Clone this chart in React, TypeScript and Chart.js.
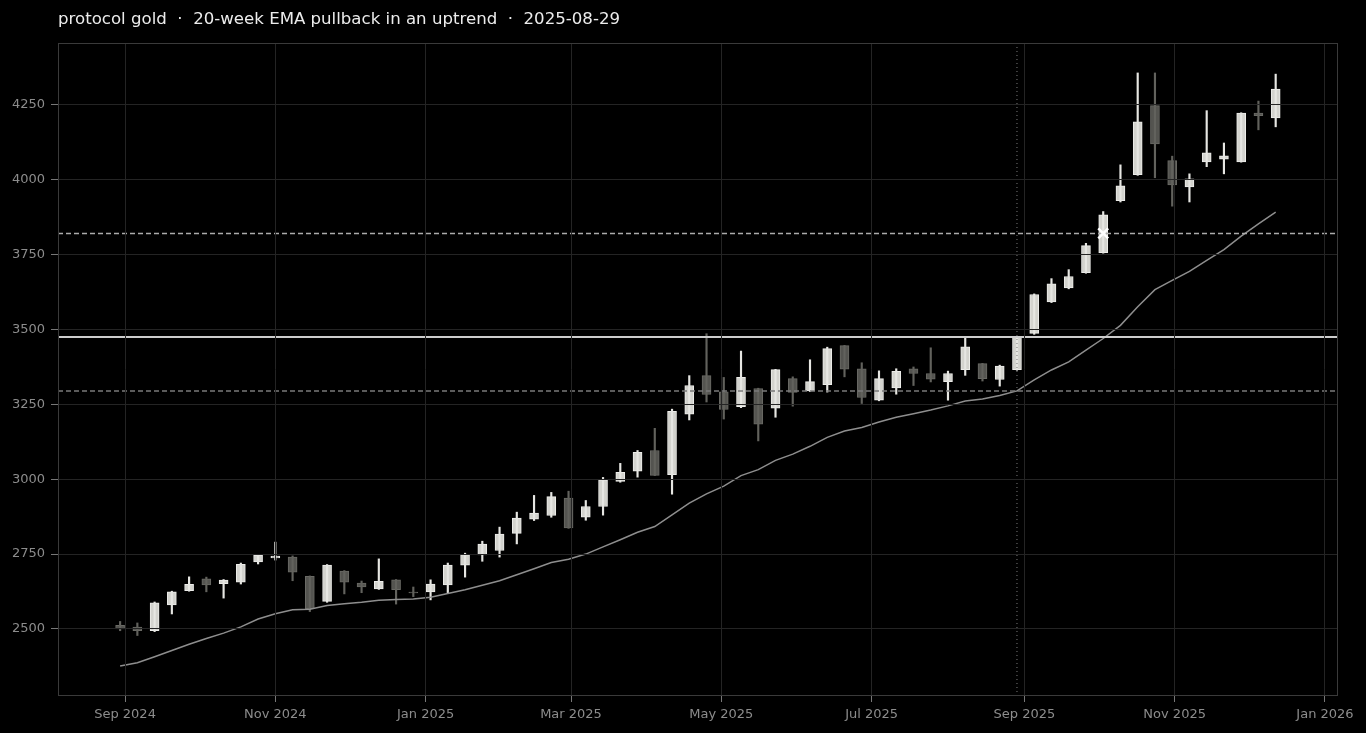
import { useEffect, useRef } from "react";
import { Chart, registerables } from "chart.js";

Chart.register(...registerables);

// ---------- data ----------
const weeks = [
  "2024-08-30", "2024-09-06", "2024-09-13", "2024-09-20", "2024-09-27", "2024-10-04", "2024-10-11", "2024-10-18",
  "2024-10-25", "2024-11-01", "2024-11-08", "2024-11-15", "2024-11-22", "2024-11-29", "2024-12-06", "2024-12-13",
  "2024-12-20", "2024-12-27", "2025-01-03", "2025-01-10", "2025-01-17", "2025-01-24", "2025-01-31", "2025-02-07",
  "2025-02-14", "2025-02-21", "2025-02-28", "2025-03-07", "2025-03-14", "2025-03-21", "2025-03-28", "2025-04-04",
  "2025-04-11", "2025-04-18", "2025-04-25", "2025-05-02", "2025-05-09", "2025-05-16", "2025-05-23", "2025-05-30",
  "2025-06-06", "2025-06-13", "2025-06-20", "2025-06-27", "2025-07-04", "2025-07-11", "2025-07-18", "2025-07-25",
  "2025-08-01", "2025-08-08", "2025-08-15", "2025-08-22", "2025-08-29", "2025-09-05", "2025-09-12", "2025-09-19",
  "2025-09-26", "2025-10-03", "2025-10-10", "2025-10-17", "2025-10-24", "2025-10-31", "2025-11-07", "2025-11-14",
  "2025-11-21", "2025-11-28", "2025-12-05", "2025-12-12",
];

const opens = [
  2512, 2506, 2494, 2580, 2628, 2667, 2651, 2656, 2724, 2737, 2740, 2676, 2592, 2693, 2653, 2634,
  2664, 2623, 2624, 2647, 2713, 2747, 2762, 2819, 2867, 2879, 2937, 2873, 2909, 2993, 3027, 3096,
  3015, 3217, 3346, 3292, 3242, 3303, 3237, 3336, 3295, 3316, 3446, 3369, 3264, 3305, 3369, 3353,
  3326, 3366, 3386, 3333, 3366, 3487, 3592, 3639, 3690, 3757, 3930, 4017, 4248, 4064, 3976, 4060,
  4069, 4060, 4223, 4207,
];
const highs = [
  2525, 2520, 2590, 2626, 2674, 2673, 2665, 2720, 2749, 2790, 2744, 2677, 2715, 2695, 2660, 2734,
  2665, 2640, 2664, 2720, 2753, 2793, 2840, 2890, 2946, 2956, 2960, 2929, 3006, 3053, 3096, 3170,
  3234, 3346, 3486, 3340, 3428, 3304, 3367, 3342, 3399, 3441, 3447, 3389, 3362, 3369, 3375, 3439,
  3361, 3475, 3387, 3381, 3477, 3619, 3670, 3700, 3788, 3894, 4050, 4357, 4357, 4079, 4020, 4231,
  4123, 4224, 4263, 4353,
];
const lows = [
  2494, 2478, 2491, 2550, 2626, 2624, 2603, 2650, 2717, 2730, 2661, 2558, 2589, 2617, 2621, 2632,
  2583, 2608, 2597, 2620, 2673, 2726, 2740, 2784, 2862, 2873, 2836, 2863, 2880, 2990, 3007, 3012,
  2950, 3198, 3258, 3201, 3239, 3128, 3207, 3244, 3293, 3291, 3342, 3253, 3262, 3284, 3313, 3325,
  3264, 3347, 3328, 3311, 3364, 3484, 3590, 3636, 3688, 3755, 3926, 4015, 4007, 3912, 3926, 4044,
  4020, 4059, 4167, 4177,
];
const closes = [
  2500, 2494, 2587, 2624, 2649, 2647, 2663, 2716, 2747, 2743, 2690, 2568, 2713, 2656, 2640, 2659,
  2631, 2620, 2650, 2713, 2748, 2783, 2817, 2870, 2887, 2942, 2837, 2909, 2998, 3023, 3090, 3013,
  3227, 3313, 3283, 3233, 3340, 3184, 3366, 3290, 3326, 3436, 3368, 3273, 3336, 3360, 3353, 3334,
  3353, 3442, 3336, 3378, 3475, 3617, 3653, 3677, 3780, 3883, 3980, 4194, 4120, 3983, 4003, 4090,
  4080, 4223, 4214, 4303,
];
const ema20 = [
  2376, 2387, 2407, 2428, 2449, 2468, 2486, 2507, 2533, 2551, 2564, 2566, 2578, 2584, 2589, 2596,
  2598, 2600, 2606, 2618, 2631, 2646, 2661, 2681, 2701, 2722, 2733, 2750, 2774, 2798, 2823, 2842,
  2881, 2920, 2951, 2977, 3012, 3032, 3063, 3084, 3110, 3140, 3161, 3173, 3191, 3207, 3219, 3231,
  3245, 3261, 3268, 3280, 3295, 3332, 3365, 3392, 3431, 3470, 3514, 3576, 3633, 3664, 3694, 3731,
  3767, 3812, 3853, 3892,
];

const yTicks = [2500, 2750, 3000, 3250, 3500, 3750, 4000, 4250];
const xTickDates = [
  "2024-09-01", "2024-11-01", "2025-01-01", "2025-03-01", "2025-05-01",
  "2025-07-01", "2025-09-01", "2025-11-01", "2026-01-01",
];
const monthNames = ["Jan", "Feb", "Mar", "Apr", "May", "Jun", "Jul", "Aug", "Sep", "Oct", "Nov", "Dec"];

const signalDate = "2025-08-29";
const closeLevel = 3475;
const emaLevel = 3295;
const targetLevel = 3821;
const markerDate = "2025-10-03";
const markerValue = 3821;

const xRange = ["2024-08-04T19:00:00Z", "2026-01-06T07:00:00Z"];
const yRange = [2276, 4457];

const titleText = "protocol gold  ·  20-week EMA pullback in an uptrend  ·  2025-08-29";

// ---------- styles ----------
const UP_FILL = "#d3d3ce";
const UP_EDGE = "#ededea";
const UP_WICK = "#e6e6e2";
const DN_FILL = "#545450";
const DN_EDGE = "#6a6a65";
const DN_WICK = "#62625d";
const FONT = "'DejaVu Sans', sans-serif";

const framePlugin = {
  id: "frameAndTitle",
  beforeDraw(chart: any) {
    const ctx = chart.ctx;
    ctx.save();
    ctx.fillStyle = "#000000";
    ctx.fillRect(0, 0, chart.width, chart.height);
    ctx.restore();
  },
  afterDraw(chart: any) {
    const { ctx, chartArea: a } = chart;
    ctx.save();
    ctx.strokeStyle = "#3a3a3a";
    ctx.lineWidth = 1;
    ctx.strokeRect(a.left + 0.5, a.top + 0.5, a.right - a.left - 1, a.bottom - a.top - 1);
    ctx.fillStyle = "#ececec";
    ctx.font = `16.6px ${FONT}`;
    ctx.textBaseline = "middle";
    ctx.textAlign = "left";
    ctx.fillText(titleText, a.left, 20);
    ctx.restore();
  },
};

export default function App() {
  const ref = useRef<HTMLCanvasElement | null>(null);

  useEffect(() => {
    document.body.style.margin = "0";
    document.body.style.background = "#000";
    const canvas = ref.current;
    if (!canvas) return;
    const xs = weeks.map((d) => Date.parse(d));
    const isUp = closes.map((c, i) => c >= opens[i]);
    const xMin = Date.parse(xRange[0]);
    const xMax = Date.parse(xRange[1]);
    const sig = Date.parse(signalDate);

    const chart = new Chart(canvas, {
      type: "bar",
      data: {
        datasets: [
          {
            type: "scatter",
            label: "signal",
            data: [{ x: Date.parse(markerDate), y: markerValue }],
            pointStyle: "crossRot",
            pointRadius: 7,
            borderColor: "#ffffff",
            backgroundColor: "#ffffff",
            pointBorderWidth: 2.5,
            borderWidth: 2.5,
            order: 0,
          } as any,
          {
            type: "line",
            label: "close",
            data: [{ x: xMin, y: closeLevel }, { x: xMax, y: closeLevel }],
            borderColor: "#cdcdcd",
            borderWidth: 2,
            pointRadius: 0,
            order: 1,
          },
          {
            type: "line",
            label: "target",
            data: [{ x: xMin, y: targetLevel }, { x: xMax, y: targetLevel }],
            borderColor: "#ababab",
            borderWidth: 1.5,
            borderDash: [5, 3],
            pointRadius: 0,
            order: 1,
          },
          {
            type: "line",
            label: "ema level",
            data: [{ x: xMin, y: emaLevel }, { x: xMax, y: emaLevel }],
            borderColor: "#7a7a7a",
            borderWidth: 1.5,
            borderDash: [5, 3],
            pointRadius: 0,
            order: 1,
          },
          {
            type: "line",
            label: "signal date",
            data: [{ x: sig, y: yRange[0] }, { x: sig, y: yRange[1] }],
            borderColor: "#7a7a7a",
            borderWidth: 1,
            borderDash: [1, 3],
            pointRadius: 0,
            order: 1,
          },
          {
            type: "line",
            label: "EMA 20",
            data: xs.map((x, i) => ({ x, y: ema20[i] })),
            borderColor: "#8e8e8e",
            borderWidth: 1.5,
            pointRadius: 0,
            tension: 0,
            order: 2,
          },
          {
            type: "bar",
            label: "wick",
            data: xs.map((x, i) => ({ x, y: [lows[i], highs[i]] })) as any,
            backgroundColor: isUp.map((u) => (u ? UP_WICK : DN_WICK)),
            borderWidth: 0,
            barThickness: 1.5,
            grouped: false,
            order: 3,
          } as any,
          {
            type: "bar",
            label: "body",
            data: xs.map((x, i) => ({ x, y: [opens[i], closes[i]] })) as any,
            backgroundColor: isUp.map((u) => (u ? UP_FILL : DN_FILL)),
            borderColor: isUp.map((u) => (u ? UP_EDGE : DN_EDGE)),
            borderWidth: 1,
            borderSkipped: false,
            barThickness: 9,
            grouped: false,
            order: 4,
          } as any,
        ],
      },
      options: {
        responsive: false,
        devicePixelRatio: 1,
        animation: false,
        events: [],
        layout: { padding: { top: 43, right: 28, left: 0, bottom: 0 } },
        plugins: {
          legend: { display: false },
          tooltip: { enabled: false },
          title: { display: false },
        },
        scales: {
          x: {
            type: "linear",
            min: xMin,
            max: xMax,
            offset: false,
            grid: { offset: false, color: "#242424", tickColor: "#777777", tickLength: 6, z: 1 },
            border: { display: false },
            afterBuildTicks: (scale: any) => {
              scale.ticks = xTickDates.map((d) => ({ value: Date.parse(d) }));
            },
            afterFit: (scale: any) => {
              scale.height = 37;
            },
            ticks: {
              autoSkip: false,
              maxRotation: 0,
              color: "#8c8c8c",
              padding: 5,
              font: { family: FONT, size: 13 },
              callback: (v: any) => {
                const d = new Date(Number(v));
                return `${monthNames[d.getUTCMonth()]} ${d.getUTCFullYear()}`;
              },
            },
          },
          y: {
            type: "linear",
            min: yRange[0],
            max: yRange[1],
            grid: { color: "#242424", tickColor: "#777777", tickLength: 7, z: 1 },
            border: { display: false },
            afterBuildTicks: (scale: any) => {
              scale.ticks = yTicks.map((v) => ({ value: v }));
            },
            afterFit: (scale: any) => {
              scale.width = 58;
            },
            ticks: {
              color: "#8c8c8c",
              padding: 6,
              font: { family: FONT, size: 13 },
              callback: (v: any) => String(v),
            },
          },
        },
      },
      plugins: [framePlugin],
    } as any);

    return () => chart.destroy();
  }, []);

  return (
    <div style={{ position: "fixed", left: 0, top: 0, width: 1366, height: 733, background: "#000" }}>
      <canvas ref={ref} width={1366} height={733} style={{ display: "block", width: 1366, height: 733 }} />
    </div>
  );
}
